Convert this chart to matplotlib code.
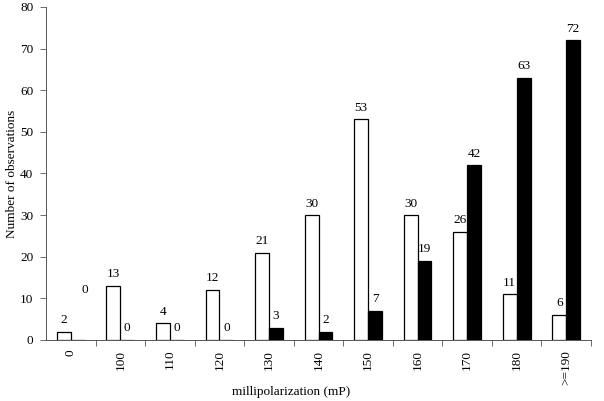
import matplotlib
matplotlib.use("Agg")
import matplotlib.pyplot as plt
import numpy as np

categories = ["0", "100", "110", "120", "130", "140", "150", "160", "170", "180", ">=190"]
white_vals = [2, 13, 4, 12, 21, 30, 53, 30, 26, 11, 6]
black_vals = [0, 0, 0, 0, 3, 2, 7, 19, 42, 63, 72]

plt.rcParams['font.family'] = ['Liberation Serif', 'DejaVu Serif']
fs = 9.5

fig = plt.figure(figsize=(6.04, 4.01), dpi=100)
ax = fig.add_axes([46/604, 1-340/401, (591-46)/604, (340-7)/401])

x = np.arange(len(categories))
w = 0.28
ax.bar(x - w/2, white_vals, width=w, color='white', edgecolor='black', linewidth=0.9)
ax.bar(x + w/2, black_vals, width=w, color='black', edgecolor='black', linewidth=0.9)

for i in range(len(categories)):
    ax.annotate(str(white_vals[i]), (x[i] - w/2, white_vals[i]), xytext=(0, 4),
                textcoords='offset points', ha='center', va='bottom', fontsize=fs)
    extra = 32 if i == 0 else 4
    dx = 5 if i == 0 else 0
    ax.annotate(str(black_vals[i]), (x[i] + w/2, black_vals[i]), xytext=(dx, extra),
                textcoords='offset points', ha='center', va='bottom', fontsize=fs)

ax.set_xlim(-0.5, len(categories) - 0.5)
ax.set_ylim(0, 80)
ax.set_yticks(np.arange(0, 81, 10))
ax.set_xticks(x)
ax.set_xticklabels(categories, rotation=90, fontsize=fs, va='top', ha='center')
ax.set_xticks(np.arange(0.5, len(categories), 1.0), minor=True)
ax.tick_params(axis='x', which='major', length=0, pad=7)
ax.tick_params(axis='x', which='minor', length=4, direction='out', width=0.6, color='#555555')
ax.tick_params(axis='y', length=4, direction='out', width=0.6, labelsize=fs, color='#555555', pad=5)

for s in ['top', 'right']:
    ax.spines[s].set_visible(False)
ax.spines['left'].set_color('#555555')
ax.spines['bottom'].set_color('#555555')
ax.spines['left'].set_linewidth(0.7)
ax.spines['bottom'].set_linewidth(0.7)

ax.set_xlabel("millipolarization (mP)", fontsize=fs)
ax.xaxis.set_label_coords((291-46)/(591-46), -(392-340)/(340-7), transform=ax.transAxes)
ax.xaxis.label.set_va('center')
ax.set_ylabel("Number of observations", fontsize=fs)
ax.yaxis.set_label_coords(-(46-12)/(591-46), 0.5, transform=ax.transAxes)
ax.yaxis.label.set_va('center')

fig.savefig("out.png", dpi=100)
